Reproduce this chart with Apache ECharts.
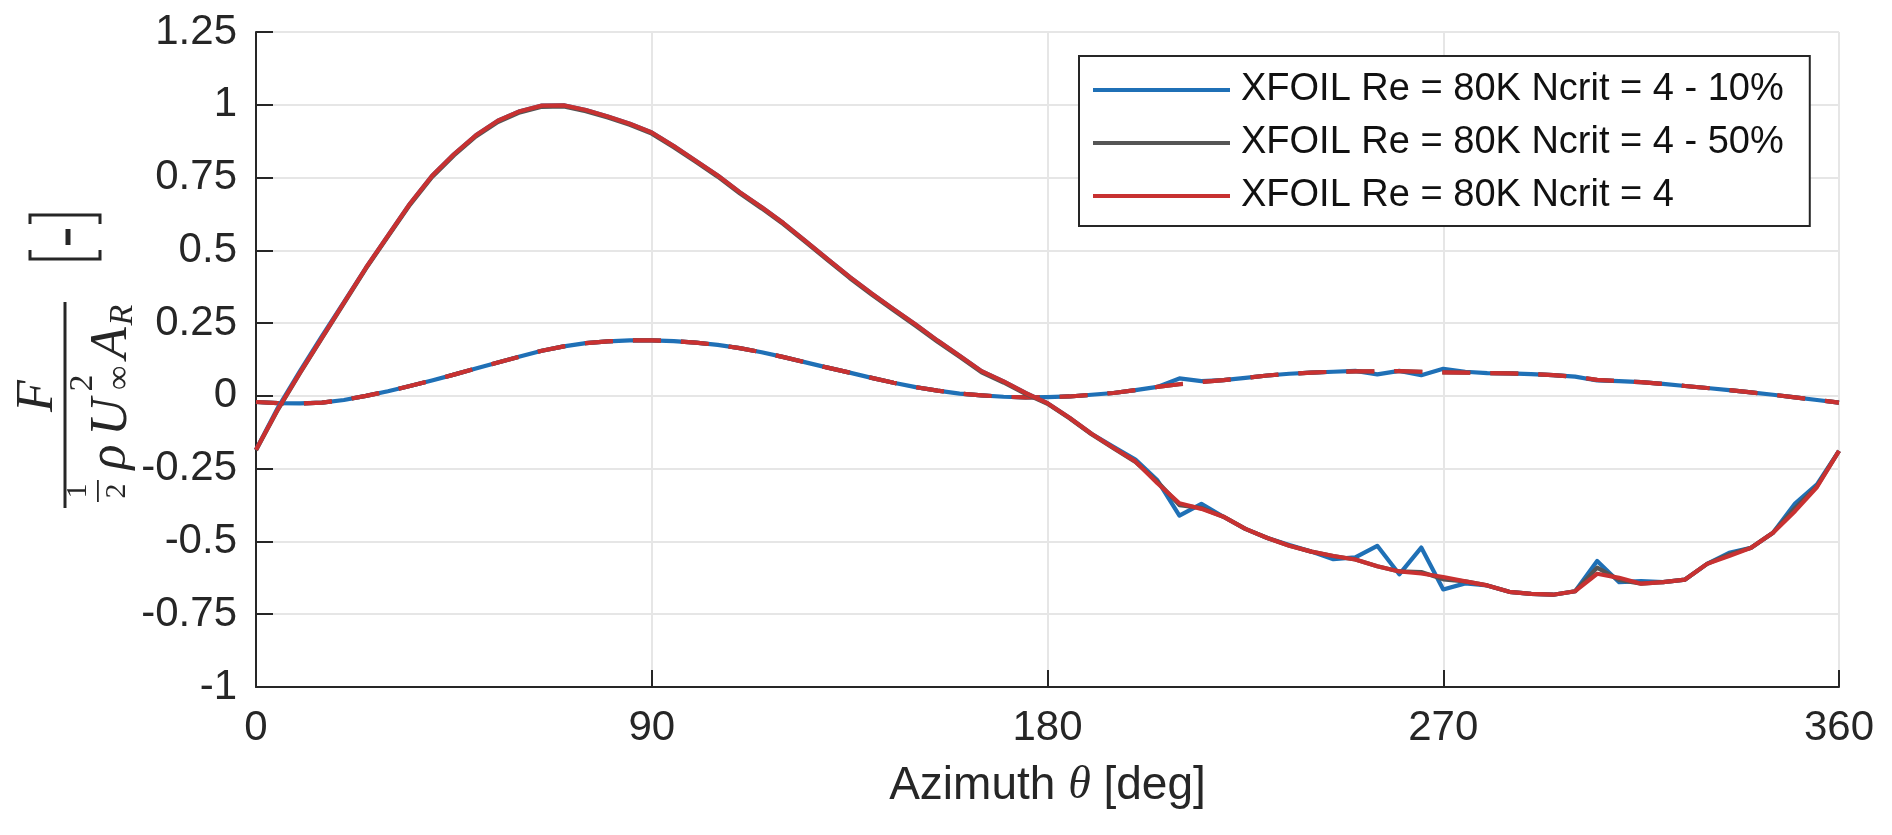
<!DOCTYPE html>
<html>
<head>
<meta charset="utf-8">
<script src="https://cdn.jsdelivr.net/npm/echarts@6.0.0/dist/echarts.min.js"></script>
<style>
html,body{margin:0;padding:0;background:#fff;}
#chart{width:1892px;height:835px;}
</style>
</head>
<body>
<div id="chart"></div>
<script>
// Azimuth angles [deg]
const azimuth = [0,5,10,15,20,25,30,35,40,45,50,55,60,65,70,75,80,85,90,95,100,105,110,115,120,125,130,135,140,145,150,155,160,165,170,175,180,185,190,195,200,205,210,215,220,225,230,235,240,245,250,255,260,265,270,275,280,285,290,295,300,305,310,315,320,325,330,335,340,345,350,355,360];

// Large-amplitude component (solid lines)
const blueLarge = [-0.185,-0.04,0.085,0.205,0.322,0.44,0.55,0.66,0.755,0.83,0.895,0.945,0.978,0.997,0.998,0.982,0.96,0.935,0.905,0.858,0.808,0.757,0.70,0.648,0.593,0.532,0.47,0.409,0.352,0.298,0.245,0.19,0.138,0.085,0.05,0.01,-0.025,-0.075,-0.13,-0.175,-0.219,-0.29,-0.411,-0.371,-0.415,-0.457,-0.488,-0.512,-0.535,-0.561,-0.555,-0.515,-0.613,-0.521,-0.665,-0.644,-0.651,-0.673,-0.68,-0.683,-0.671,-0.567,-0.64,-0.636,-0.64,-0.631,-0.577,-0.539,-0.522,-0.47,-0.37,-0.304,-0.189];
const grayLarge = [-0.187,-0.047,0.078,0.198,0.318,0.437,0.547,0.656,0.751,0.826,0.891,0.941,0.974,0.993,0.994,0.978,0.956,0.931,0.901,0.854,0.804,0.753,0.696,0.644,0.589,0.528,0.466,0.405,0.348,0.294,0.241,0.186,0.134,0.081,0.046,0.007,-0.027,-0.077,-0.132,-0.18,-0.227,-0.295,-0.375,-0.385,-0.415,-0.457,-0.488,-0.515,-0.535,-0.55,-0.562,-0.585,-0.603,-0.605,-0.63,-0.637,-0.651,-0.673,-0.68,-0.683,-0.671,-0.59,-0.632,-0.645,-0.64,-0.631,-0.577,-0.545,-0.522,-0.47,-0.385,-0.31,-0.189];
const redLarge = [-0.185,-0.045,0.08,0.20,0.32,0.44,0.55,0.66,0.755,0.83,0.895,0.945,0.978,0.997,0.998,0.982,0.96,0.935,0.905,0.858,0.808,0.757,0.70,0.648,0.593,0.532,0.47,0.409,0.352,0.298,0.245,0.19,0.138,0.085,0.05,0.01,-0.025,-0.075,-0.13,-0.178,-0.225,-0.30,-0.369,-0.388,-0.415,-0.457,-0.488,-0.515,-0.535,-0.55,-0.562,-0.585,-0.603,-0.61,-0.622,-0.637,-0.651,-0.673,-0.68,-0.683,-0.671,-0.611,-0.625,-0.645,-0.64,-0.631,-0.577,-0.55,-0.522,-0.47,-0.396,-0.313,-0.189];

// Small-amplitude component (blue solid, others dashed)
const blueSmall = [-0.021,-0.025,-0.026,-0.023,-0.014,0.0,0.016,0.034,0.053,0.073,0.094,0.115,0.135,0.155,0.17,0.181,0.187,0.191,0.191,0.188,0.183,0.175,0.164,0.15,0.133,0.115,0.097,0.08,0.062,0.045,0.03,0.018,0.008,0.002,-0.003,-0.005,-0.004,-0.002,0.004,0.01,0.02,0.031,0.06,0.051,0.054,0.062,0.07,0.076,0.08,0.083,0.086,0.074,0.086,0.071,0.093,0.083,0.078,0.077,0.075,0.071,0.066,0.053,0.051,0.047,0.041,0.034,0.027,0.02,0.012,0.004,-0.005,-0.014,-0.023];
const graySmall = [-0.021,-0.025,-0.026,-0.023,-0.014,0.0,0.016,0.034,0.053,0.073,0.094,0.115,0.135,0.155,0.17,0.181,0.187,0.191,0.191,0.188,0.183,0.175,0.164,0.15,0.133,0.115,0.097,0.08,0.062,0.045,0.03,0.018,0.008,0.002,-0.003,-0.005,-0.004,-0.002,0.004,0.01,0.02,0.031,0.04,0.048,0.054,0.062,0.07,0.076,0.08,0.083,0.084,0.084,0.085,0.083,0.081,0.08,0.078,0.077,0.075,0.071,0.066,0.055,0.051,0.047,0.041,0.034,0.027,0.02,0.012,0.004,-0.005,-0.014,-0.023];
const redSmall = [-0.021,-0.025,-0.026,-0.023,-0.014,0.0,0.016,0.034,0.053,0.073,0.094,0.115,0.135,0.155,0.17,0.181,0.187,0.191,0.191,0.188,0.183,0.175,0.164,0.15,0.133,0.115,0.097,0.08,0.062,0.045,0.03,0.018,0.008,0.002,-0.003,-0.005,-0.004,-0.002,0.004,0.01,0.02,0.031,0.04,0.048,0.054,0.062,0.07,0.076,0.08,0.083,0.084,0.084,0.085,0.083,0.081,0.08,0.078,0.077,0.075,0.071,0.066,0.055,0.051,0.047,0.041,0.034,0.027,0.02,0.012,0.004,-0.005,-0.014,-0.023];

const seriesNames = ['XFOIL Re = 80K Ncrit = 4 - 10%','XFOIL Re = 80K Ncrit = 4 - 50%','XFOIL Re = 80K Ncrit = 4'];
const xTicks = [0,90,180,270,360];
const yTicks = [-1,-0.75,-0.5,-0.25,0,0.25,0.5,0.75,1,1.25];

const COL_BLUE = '#1f70b6';
const COL_GRAY = '#555555';
const COL_RED = '#c83131';
const INK = '#262626';
const SANS = '"Liberation Sans", Arial, Helvetica, sans-serif';
const SERIF = '"Liberation Serif", "DejaVu Serif", serif';

function pairs(vals){ return azimuth.map((a,i)=>[a, vals[i]]); }
function line(name, vals, color, dashed){
  return {
    name: name, type:'line', data: pairs(vals), showSymbol:false, symbol:'none',
    smooth:false, animation:false,
    lineStyle:{color:color, width:4.2, type: dashed ? [28,20] : 'solid', cap:'butt', join:'round'},
    itemStyle:{color:color},
    emphasis:{disabled:true}
  };
}
function txt(x, y, s, font){
  return {type:'text', x:x, y:y, style:{text:s, font:font, fill:INK, align:'center', verticalAlign:'middle', textAlign:'center', textVerticalAlign:'middle'}};
}

const chart = echarts.init(document.getElementById('chart'), null, {renderer:'canvas'});
const yLabelChildren = [
  txt(9, -27, 'F', 'italic 52px ' + SERIF),
  {type:'rect', shape:{x:-103, y:-1.5, width:206, height:3}, style:{fill:INK}},
  txt(-86, 13, '1', '30px ' + SERIF),
  {type:'rect', shape:{x:-97, y:32, width:22, height:1.8}, style:{fill:INK}},
  txt(-86, 52, '2', '30px ' + SERIF),
  txt(-52, 45, 'ρ', 'italic 52px ' + SERIF),
  txt(-12, 47, 'U', 'italic 52px ' + SERIF),
  txt(22, 18, '2', '34px ' + SERIF),
  txt(27, 55, '∞', '34px ' + SERIF),
  txt(62, 47, 'A', 'italic 52px ' + SERIF),
  txt(90, 58, 'R', 'italic 34px ' + SERIF),
  {type:'polyline', shape:{points:[[155,-35],[146,-35],[146,35],[155,35]]}, style:{stroke:INK, lineWidth:3, fill:null}},
  {type:'rect', shape:{x:160, y:0.5, width:16, height:5}, style:{fill:INK}},
  {type:'polyline', shape:{points:[[181,-35],[190,-35],[190,35],[181,35]]}, style:{stroke:INK, lineWidth:3, fill:null}}
];

const option = {
  backgroundColor:'#ffffff',
  animation:false,
  grid:{left:256, right:53, top:32, bottom:148, containLabel:false},
  legend:{
    data: seriesNames, orient:'vertical', left:1079, top:56,
    padding:[15,26,11,14], itemGap:15, itemWidth:137, itemHeight:4, icon:'rect',
    backgroundColor:'#ffffff', borderColor:INK, borderWidth:2,
    textStyle:{fontSize:38, fontFamily:SANS, color:'#111111', lineHeight:38, padding:[0,0,0,6]},
    selectedMode:false
  },
  xAxis:{
    type:'value', min:0, max:360, interval:90,
    axisLine:{show:true, onZero:false, lineStyle:{color:INK, width:2}},
    axisTick:{show:true, inside:true, length:17, lineStyle:{color:INK, width:2}},
    axisLabel:{fontSize:42, fontFamily:SANS, color:INK, margin:20,
      formatter:function(v){ return xTicks.indexOf(v) >= 0 ? String(v) : ''; }},
    splitLine:{show:true, lineStyle:{color:'#e6e6e6', width:2}},
    name:'Azimuth {t|θ} [deg]', nameLocation:'middle', nameGap:76,
    nameTextStyle:{fontSize:46, fontFamily:SANS, color:INK,
      rich:{t:{fontSize:46, fontStyle:'italic', fontFamily:SERIF, color:INK}}}
  },
  yAxis:{
    type:'value', min:-1, max:1.25, interval:0.25,
    axisLine:{show:true, onZero:false, lineStyle:{color:INK, width:2}},
    axisTick:{show:true, inside:true, length:17, lineStyle:{color:INK, width:2}},
    axisLabel:{fontSize:42, fontFamily:SANS, color:INK, margin:19,
      formatter:function(v){ return yTicks.some(t=>Math.abs(t-v)<1e-9) ? String(Math.round(v*100)/100) : ''; }},
    splitLine:{show:true, lineStyle:{color:'#e6e6e6', width:2}}
  },
  graphic:[
    {type:'group', x:65, y:405, rotation:Math.PI/2, children:yLabelChildren}
  ],
  series:[
    line(seriesNames[0], blueSmall, COL_BLUE, false),
    line(seriesNames[1], graySmall, COL_GRAY, true),
    line(seriesNames[2], redSmall, COL_RED, true),
    line(seriesNames[0], blueLarge, COL_BLUE, false),
    line(seriesNames[1], grayLarge, COL_GRAY, false),
    line(seriesNames[2], redLarge, COL_RED, false)
  ]
};
chart.setOption(option);
</script>
</body>
</html>
